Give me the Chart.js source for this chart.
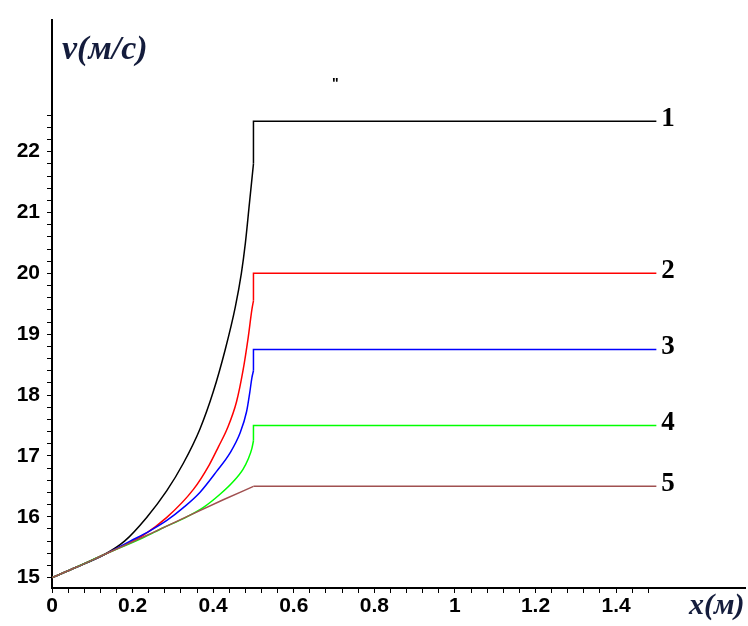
<!DOCTYPE html>
<html>
<head>
<meta charset="utf-8">
<script src="https://cdn.jsdelivr.net/npm/chart.js@4.4.1/dist/chart.umd.min.js"></script>
<style>
  html, body { margin: 0; padding: 0; background: #fff; }
  #wrap { width: 748px; height: 626px; position: relative; }
</style>
</head>
<body>
<div id="wrap"><canvas id="c"></canvas></div>
<script>
// ---- data ----
const curveLabels = ['1', '2', '3', '4', '5'];
const colors = ['#000000', '#ff0000', '#0000ff', '#00ff00', '#a05050'];

const x1 = [0, 0.06, 0.13, 0.18, 0.235, 0.285, 0.326, 0.367, 0.40, 0.43, 0.455, 0.47, 0.48, 0.49, 0.5];
const v1 = [15, 15.17, 15.38, 15.6, 15.99, 16.43, 16.88, 17.44, 18.05, 18.75, 19.45, 20.0, 20.5, 21.15, 21.8];

const x2 = [0, 0.06, 0.13, 0.177, 0.227, 0.285, 0.351, 0.39, 0.413, 0.435, 0.458, 0.474, 0.487, 0.496, 0.5];
const v2 = [15, 15.17, 15.38, 15.53, 15.7, 15.99, 16.45, 16.85, 17.15, 17.45, 17.89, 18.4, 18.95, 19.4, 19.55];

const x3 = [0, 0.06, 0.13, 0.194, 0.243, 0.285, 0.326, 0.367, 0.409, 0.442, 0.467, 0.483, 0.491, 0.496, 0.5];
const v3 = [15, 15.17, 15.38, 15.6, 15.77, 15.94, 16.15, 16.4, 16.75, 17.05, 17.38, 17.73, 18.05, 18.28, 18.4];

const x4 = [0, 0.06, 0.13, 0.227, 0.276, 0.326, 0.375, 0.417, 0.45, 0.474, 0.487, 0.496, 0.5];
const v4 = [15, 15.17, 15.38, 15.66, 15.82, 15.97, 16.15, 16.37, 16.58, 16.78, 16.95, 17.12, 17.25];

const x5 = [0, 0.06, 0.13, 0.25, 0.34, 0.425, 0.5];
const v5 = [15, 15.17, 15.38, 15.74, 16.02, 16.28, 16.5];

const jumpX = 0.5;
const endX = 1.5;
const plateau = [22.5, 20.0, 18.75, 17.5, 16.5];

const xMajorTicks = [0, 0.2, 0.4, 0.6, 0.8, 1, 1.2, 1.4];
const xMinorStep = 0.04, xTickEnd = 1.48;
const yMajorTicks = [15, 16, 17, 18, 19, 20, 21, 22];
const yMinorStep = 0.2, yTickEnd = 22.6;

// ---- build datasets ----
const curvesX = [x1, x2, x3, x4, x5];
const curvesV = [v1, v2, v3, v4, v5];
const datasets = [];
for (let i = curvesX.length - 1; i >= 0; i--) {
  const xs = curvesX[i], vs = curvesV[i];
  datasets.push({
    data: xs.map((x, k) => ({ x: x, y: vs[k] })),
    borderColor: colors[i], borderWidth: 1.5, pointRadius: 0, showLine: true,
    cubicInterpolationMode: 'monotone', fill: false
  });
  datasets.push({
    data: [
      { x: jumpX, y: vs[vs.length - 1] },
      { x: jumpX, y: plateau[i] },
      { x: endX, y: plateau[i] }
    ],
    borderColor: colors[i], borderWidth: 1.5, pointRadius: 0, showLine: true,
    tension: 0, fill: false
  });
}

function tickList(start, end, step) {
  const out = [];
  const n = Math.round((end - start) / step);
  for (let k = 0; k <= n; k++) out.push(+(start + k * step).toFixed(4));
  return out;
}
function isMajor(v, majors) { return majors.some(m => Math.abs(m - v) < 1e-6); }

const textPlugin = {
  id: 'texts',
  afterDatasetsDraw(chart) {
    const ctx = chart.ctx;
    const xs = chart.scales.x, ys = chart.scales.y;
    ctx.save();
    ctx.fillStyle = '#000';
    ctx.font = 'bold 27px "Liberation Serif", serif';
    ctx.textAlign = 'left';
    ctx.textBaseline = 'middle';
    for (let i = 0; i < plateau.length; i++) {
      ctx.fillText(curveLabels[i], xs.getPixelForValue(endX) + 5, ys.getPixelForValue(plateau[i]) - 2);
    }
    ctx.fillStyle = '#141c3c';
    ctx.font = 'italic bold 34px "Liberation Serif", serif';
    ctx.textBaseline = 'alphabetic';
    ctx.fillText('v(м/с)', 62, 59);
    ctx.font = 'italic bold 30px "Liberation Serif", serif';
    ctx.fillText('x(м)', 689, 614);
    ctx.fillStyle = '#000';
    ctx.font = 'bold 14px "Liberation Sans", sans-serif';
    ctx.fillText('"', 332, 88);
    ctx.restore();
  }
};

new Chart(document.getElementById('c'), {
  type: 'scatter',
  data: { datasets: datasets },
  plugins: [textPlugin],
  options: {
    responsive: true,
    maintainAspectRatio: false,
    animation: false,
    layout: { padding: { left: 0, top: 15, right: 3, bottom: 0 } },
    plugins: { legend: { display: false }, tooltip: { enabled: false } },
    scales: {
      x: {
        type: 'linear', position: 'bottom', min: 0, max: 1.72,
        afterBuildTicks: s => { s.ticks = tickList(0, xTickEnd, xMinorStep).map(v => ({ value: v })); },
        afterFit: s => { s.height = 38; },
        grid: { drawOnChartArea: false, drawTicks: true, tickLength: 5, tickColor: '#000', tickWidth: 1 },
        border: { display: true, color: '#000', width: 2 },
        ticks: {
          autoSkip: false, maxRotation: 0, padding: 1, color: '#000',
          font: { family: '"Liberation Sans", Arial, sans-serif', size: 21, weight: 'bold' },
          callback: v => isMajor(v, xMajorTicks) ? String(+v.toFixed(2)) : ''
        }
      },
      y: {
        type: 'linear', position: 'left', min: 14.83, max: 24.17,
        afterBuildTicks: s => { s.ticks = tickList(15, yTickEnd, yMinorStep).map(v => ({ value: v })); },
        afterFit: s => { s.width = 52; },
        grid: { drawOnChartArea: false, drawTicks: true, tickLength: 5, tickColor: '#000', tickWidth: 1 },
        border: { display: true, color: '#000', width: 2 },
        ticks: {
          autoSkip: false, padding: 7, color: '#000',
          font: { family: '"Liberation Sans", Arial, sans-serif', size: 21, weight: 'bold' },
          callback: v => isMajor(v, yMajorTicks) ? String(Math.round(v)) : ''
        }
      }
    }
  }
});
</script>
</body>
</html>
